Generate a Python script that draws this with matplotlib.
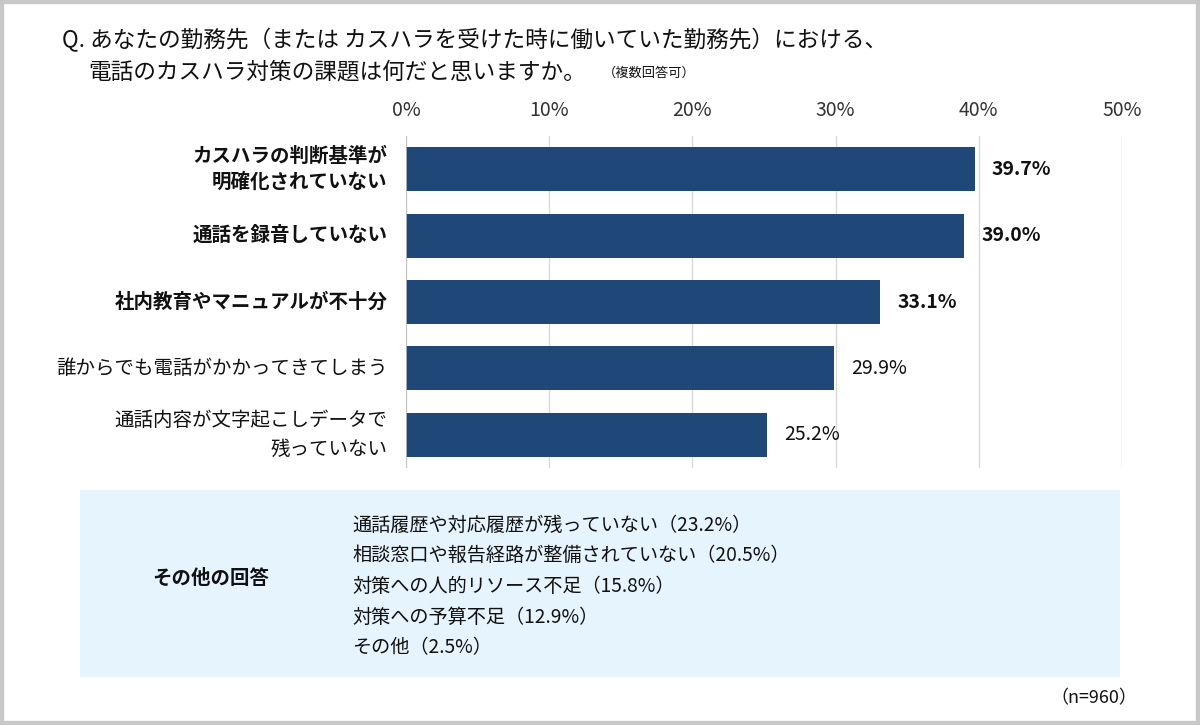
import matplotlib.pyplot as plt
from matplotlib.patches import Rectangle

plt.rcParams['font.family'] = ['Noto Sans CJK JP', 'DejaVu Sans']

# data
labels = ["カスハラの判断基準が\n明確化されていない", "通話を録音していない", "社内教育やマニュアルが不十分",
          "誰からでも電話がかかってきてしまう", "通話内容が文字起こしデータで\n残っていない"]
values = [39.7, 39.0, 33.1, 29.9, 25.2]
bold_top = 3
other_answers = ["通話履歴や対応履歴が残っていない（23.2%）", "相談窓口や報告経路が整備されていない（20.5%）",
                 "対策への人的リソース不足（15.8%）", "対策への予算不足（12.9%）", "その他（2.5%）"]
ticks = [0, 10, 20, 30, 40, 50]

W, H = 1200, 725
fig = plt.figure(figsize=(12, 7.25), dpi=100)

def fx(px):
    return px / W

def fy(py):
    return 1 - py / H

# outer frame
fig.patches.append(Rectangle((0, 0), 1, 1, transform=fig.transFigure, fill=False,
                             edgecolor='#c8c8c8', linewidth=6))

fig.text(fx(62), fy(40), "Q. あなたの勤務先（または カスハラを受けた時に働いていた勤務先）における、",
         fontsize=16.3, va='center', ha='left', color='#111111')
fig.text(fx(88), fy(72), "電話のカスハラ対策の課題は何だと思いますか。", fontsize=16.3, va='center', ha='left',
         color='#111111')
fig.text(fx(603), fy(73), "（複数回答可）", fontsize=9.5, va='center', ha='left', color='#111111')

ax = fig.add_axes([fx(406), fy(468), fx(1122) - fx(406), (468 - 136) / H])
y = list(range(len(values)))
ax.barh(y, values, height=0.66, color='#1f4878', zorder=3)
ax.set_ylim(len(values) - 0.5, -0.5)
ax.set_xlim(0, 50)
ax.set_xticks(ticks)
ax.set_xticklabels([f"{t}%" for t in ticks], fontsize=14, color='#333333')
ax.xaxis.tick_top()
ax.tick_params(axis='x', length=0, pad=11)
ax.tick_params(axis='y', length=0)
ax.set_yticks(y)
ax.set_yticklabels([])
ax.grid(axis='x', color='#d9d9d9', linewidth=1, zorder=0)
for s in ax.spines.values():
    s.set_visible(False)
ax.axvline(0, color='#bfbfbf', linewidth=1.2, zorder=4)

for i, (lab, v) in enumerate(zip(labels, values)):
    w = 'bold' if i < bold_top else 'normal'
    ax.text(-1.3, i, lab, ha='right', va='center', fontsize=14, fontweight=w,
            color='#111111', linespacing=1.45)
    ax.text(v + 1.2, i, f"{v:.1f}%", ha='left', va='center', fontsize=14, fontweight=w, color='#111111')

# other answers box
fig.patches.append(Rectangle((fx(80), fy(677)), fx(1120) - fx(80), (677 - 490) / H,
                             transform=fig.transFigure, facecolor='#e6f4fd', edgecolor='none'))
fig.text(fx(152), fy(578), "その他の回答", fontsize=14, fontweight='bold', va='center', ha='left',
         color='#111111')
for k, t in enumerate(other_answers):
    fig.text(fx(352), fy(525 + k * 30.7), t, fontsize=13.8, va='center', ha='left', color='#111111')

fig.text(fx(1137), fy(698), "（n=960）", fontsize=13, va='center', ha='right', color='#111111')

fig.savefig("out.png", dpi=100, facecolor='white')
